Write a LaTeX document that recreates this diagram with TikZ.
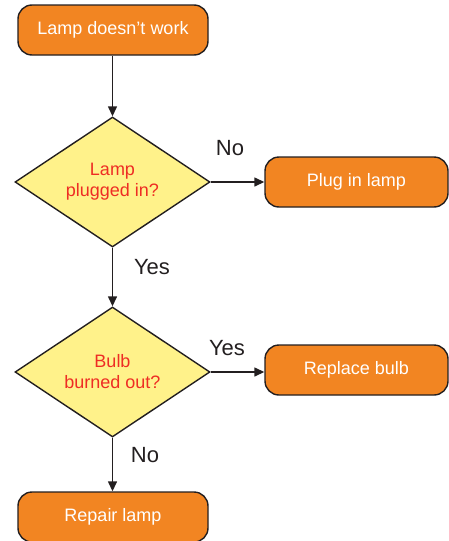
\documentclass[tikz,border=0pt]{standalone}
\usepackage{fontspec}
\setmainfont{Liberation Sans}
\usetikzlibrary{shapes.geometric,arrows.meta}
\definecolor{boxorange}{HTML}{F28522}
\definecolor{diayellow}{HTML}{FFF28A}
\definecolor{qred}{HTML}{EE2D24}
\definecolor{lineblack}{HTML}{231F20}
\tikzset{
  stepbox/.style={draw=lineblack, line width=1.4pt, fill=boxorange, rounded corners=14pt,
    text=white, font=\fontsize{18}{21}\selectfont, inner sep=0pt},
  decision/.style={draw=lineblack, line width=1.4pt, fill=diayellow, diamond, aspect=1.5,
    text=qred, font=\fontsize{18}{21}\selectfont, align=center, inner sep=0pt},
  flow/.style={draw=lineblack, line width=1.4pt, -{Triangle[length=10pt,width=9pt]}},
  lbl/.style={font=\fontsize{22}{24}\selectfont, text=lineblack}
}
\begin{document}
\begin{tikzpicture}[x=1pt,y=-1pt]
\useasboundingbox (0,0) rectangle (449,541);
\node[stepbox, minimum width=190pt, minimum height=50pt] (start) at (113,30) {Lamp doesn’t work};
\node[decision, minimum width=195pt, minimum height=130pt] (q1) at (112.5,182) {Lamp\\plugged in?};
\node[stepbox, minimum width=183pt, minimum height=50pt] (plug) at (356.5,182) {Plug in lamp};
\node[decision, minimum width=195pt, minimum height=130pt] (q2) at (112.5,372) {Bulb\\burned out?};
\node[stepbox, minimum width=183pt, minimum height=50pt] (bulb) at (356.5,370) {Replace bulb};
\node[stepbox, minimum width=190pt, minimum height=50pt] (repair) at (113,517) {Repair lamp};
\draw[flow] (start.south -| q1.north) -- (q1.north);
\draw[flow] (q1.east) -- (q1.east -| plug.west);
\draw[flow] (q1.south) -- (q2.north);
\draw[flow] (q2.east) -- (q2.east -| bulb.west);
\draw[flow] (q2.south) -- (repair.north -| q2.south);
\node[lbl] (no1) at (230,148) {No};
\node[lbl] (yes1) at (152,267) {Yes};
\node[lbl] (yes2) at (227,348) {Yes};
\node[lbl] (no2) at (145,455) {No};
\end{tikzpicture}
\end{document}
